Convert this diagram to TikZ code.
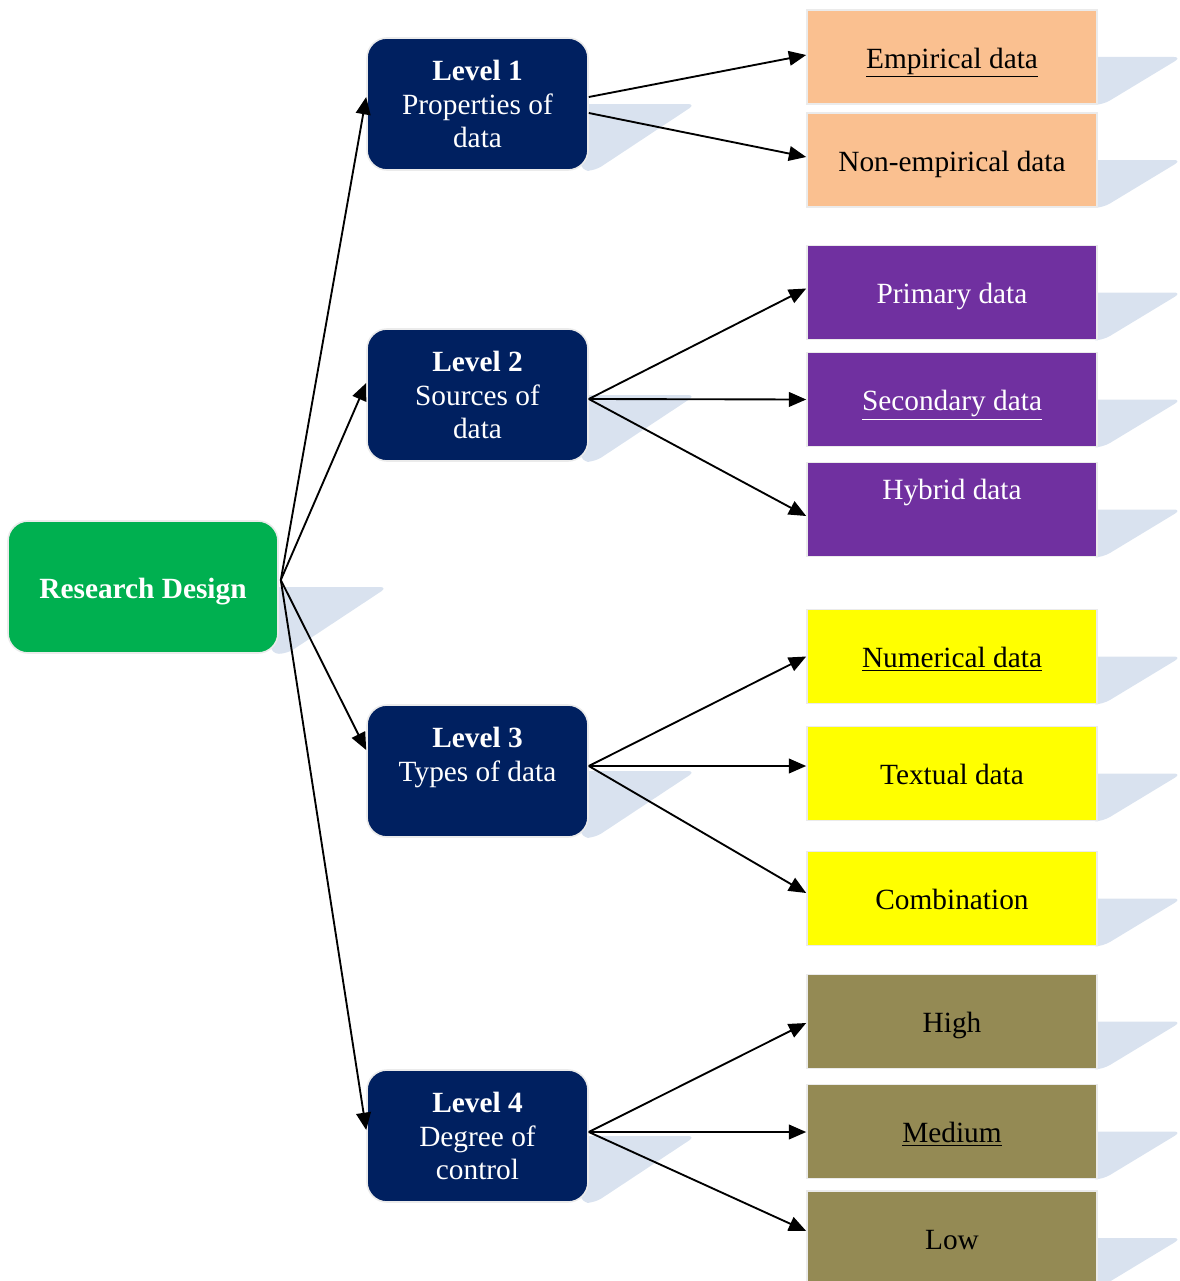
\documentclass[tikz,border=0pt]{standalone}
\usepackage{fontspec}
\setmainfont{Liberation Serif}
\usetikzlibrary{calc,arrows.meta,backgrounds}

\definecolor{rdgreen}{HTML}{00B050}
\definecolor{navy}{HTML}{002060}
\definecolor{peach}{HTML}{FAC090}
\definecolor{violet}{HTML}{7030A0}
\definecolor{lemon}{HTML}{FFFF00}
\definecolor{olive}{HTML}{948A54}
\definecolor{shadeblue}{HTML}{D9E2EF}

\tikzset{
  box/.style={inner sep=0pt, align=center, draw=black!8, line width=1.2pt,
    font=\fontsize{22}{25}\selectfont},
  oneline/.style={text height=21pt, text depth=4pt},
  rootbox/.style={box, oneline, fill=rdgreen, text=white, rounded corners=15pt,
    minimum width=202.5pt, minimum height=99pt,
    font=\fontsize{22}{25}\selectfont\bfseries},
  levelbox/.style={box, fill=navy, text=white, rounded corners=15pt,
    minimum width=165.75pt, minimum height=99pt},
  leafbox/.style={box, minimum width=217.5pt, minimum height=70.5pt},
  peachbox/.style={leafbox, fill=peach, text=black},
  violetbox/.style={leafbox, fill=violet, text=white},
  lemonbox/.style={leafbox, fill=lemon, text=black},
  olivebox/.style={leafbox, fill=olive, text=black},
  arr/.style={line width=1.4pt, -{Triangle[length=13pt,width=11pt]}},
  shadow/.style={fill=shadeblue, rounded corners=6pt},
}

% slanted drop shade to the right of a box: #1 node, #2 reach at mid height, #3 reach at bottom
\newcommand\dropshade[3]{%
  \fill[shadow] ($(#1.east)+(-8,0)$) -- ($(#1.east)+(#2,0)$)
    -- ($(#1.south east)+(#3,0)$) -- ($(#1.south east)+(-8,0)$) -- cycle;}

\begin{document}
\begin{tikzpicture}[x=0.75pt,y=-0.75pt]
\clip (0,0) rectangle (1179,1281);

% root
\node[rootbox] (rd) at (143,587) {Research Design};

% levels
\node[levelbox] (l1) at (477.5,104) {\textbf{Level 1}\\Properties of\\data};
\node[levelbox] (l2) at (477.5,395) {\textbf{Level 2}\\Sources of\\data};
\node[levelbox] (l3) at (477.5,771) {\textbf{Level 3}\\Types of data\\\mbox{}};
\node[levelbox] (l4) at (477.5,1136) {\textbf{Level 4}\\Degree of\\control};

% leaves
\node[peachbox, oneline] (emp) at (952,57) {\underline{Empirical data}};
\node[peachbox, oneline] (nemp) at (952,160) {Non-empirical data};
\node[violetbox, oneline] (prim) at (952,292.5) {Primary data};
\node[violetbox, oneline] (sec) at (952,399.5) {\underline{Secondary data}};
\node[violetbox] (hyb) at (952,509.5) {Hybrid data\\[5pt]\mbox{}};
\node[lemonbox, oneline] (num) at (952,656.5) {\underline{Numerical data}};
\node[lemonbox, oneline] (txt) at (952,773.5) {Textual data};
\node[lemonbox, oneline] (comb) at (952,898.5) {Combination};
\node[olivebox, oneline] (high) at (952,1021.5) {High};
\node[olivebox, oneline] (med) at (952,1131.5) {\underline{Medium}};
\node[olivebox, oneline] (low) at (952,1238) {Low};

% shades behind the boxes
\begin{pgfonlayer}{background}
  \dropshade{rd}{109}{8}
  \foreach \n in {l1,l2,l3,l4} {\dropshade{\n}{107}{6}}
  \foreach \n in {emp,nemp,prim,sec,hyb,num,txt,comb,high,med,low} {\dropshade{\n}{84}{5}}
\end{pgfonlayer}

% connector origins
\coordinate (rdo) at ($(rd.east)+(2,-7)$);
\coordinate (l1a) at ($(l1.east)+(0,-7)$);
\coordinate (l1b) at ($(l1.east)+(0,9)$);
\coordinate (l2o) at ($(l2.east)+(0,4)$);
\coordinate (l3o) at ($(l3.east)+(0,-5)$);
\coordinate (l4o) at ($(l4.east)+(0,-4)$);

% root to levels
\draw[arr] (rdo) -- ($(l1.west)+(0,-7)$);
\draw[arr] (rdo) -- ($(l2.west)+(0,-12)$);
\draw[arr] (rdo) -- ($(l3.west)+(0,-21)$);
\draw[arr] (rdo) -- ($(l4.west)+(0,-6)$);

% levels to leaves
\draw[arr] (l1a) -- ($(emp.west)+(0,-2)$);
\draw[arr] (l1b) -- ($(nemp.west)+(0,-3)$);

\draw[arr] (l2o) -- ($(prim.west)+(0,-4)$);
\draw[arr] (l2o) -- (sec.west);
\draw[arr] (l2o) -- ($(hyb.west)+(0,6.5)$);

\draw[arr] (l3o) -- (num.west);
\draw[arr] (l3o) -- ($(txt.west)+(0,-7.5)$);
\draw[arr] (l3o) -- ($(comb.west)+(0,-5.5)$);

\draw[arr] (l4o) -- ($(high.west)+(0,1.5)$);
\draw[arr] (l4o) -- ($(med.west)+(0,0.5)$);
\draw[arr] (l4o) -- ($(low.west)+(0,-7)$);
\end{tikzpicture}
\end{document}
